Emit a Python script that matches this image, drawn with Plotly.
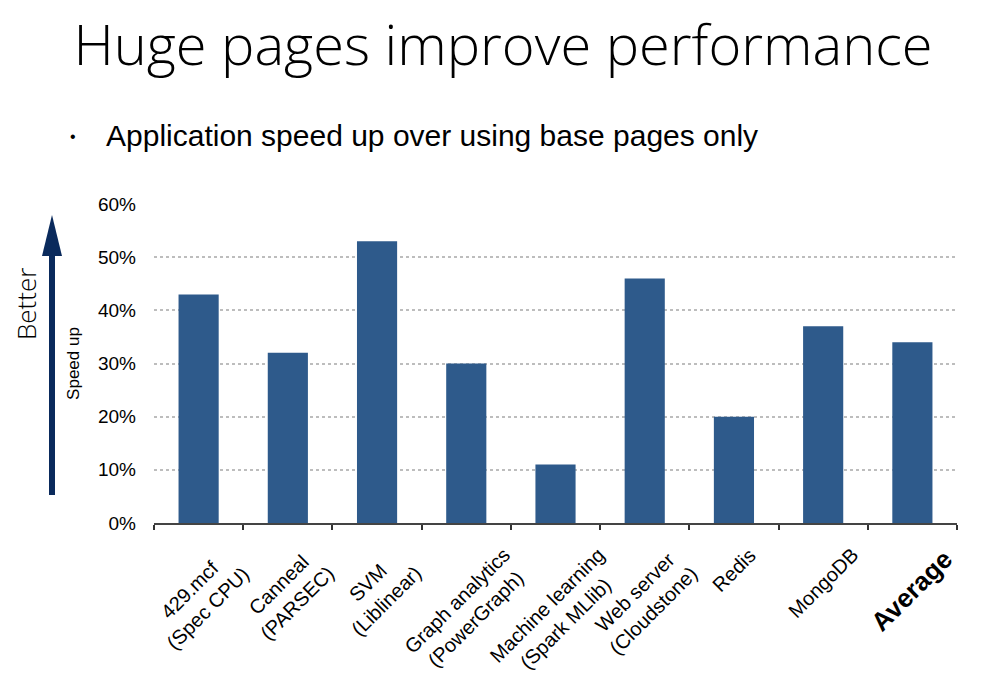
import plotly.graph_objects as go

categories = ["429.mcf", "Canneal", "SVM", "Graph analytics", "Machine learning",
              "Web server", "Redis", "MongoDB", "Average"]
tick_labels = ["429.mcf<br>(Spec CPU)", "Canneal<br>(PARSEC)", "SVM<br>(Liblinear)",
               "Graph analytics<br>(PowerGraph)", "Machine learning<br>(Spark MLlib)",
               "Web server<br>(Cloudstone)", "Redis", "MongoDB", "<b>Average</b>"]
speedup = [0.43, 0.32, 0.53, 0.30, 0.11, 0.46, 0.20, 0.37, 0.34]
y_ticks = [0, 0.1, 0.2, 0.3, 0.4, 0.5, 0.6]

W, H = 998, 676
L, R, T, B = 154, 41, 204, 153
pw, ph = W - L - R, H - T - B

def px(x):
    return (x - L) / pw

def py(y):
    return (H - B - y) / ph

BAR = "#2E5A8B"
NAVY = "#0A2A5C"
FONT = "Liberation Sans, Arial, sans-serif"
LIGHT = "Open Sans, sans-serif"

fig = go.Figure(go.Bar(x=categories, y=speedup, marker=dict(color=BAR, line=dict(width=0))))

fig.update_layout(
    width=W, height=H,
    margin=dict(l=L, r=R, t=T, b=B, autoexpand=False),
    paper_bgcolor="white", plot_bgcolor="white",
    bargap=0.55,
    showlegend=False,
    font=dict(family=FONT, color="black"),
    title=dict(text="Huge pages improve performance", x=503 / W, xanchor="center",
               y=1 - 45 / H, yanchor="middle",
               font=dict(family=LIGHT, size=56, weight=300, color="black")),
)

fig.update_xaxes(
    type="category", categoryorder="array", categoryarray=categories,
    range=[-0.5, len(categories) - 0.5],
    showticklabels=False,
    tickson="boundaries", ticks="outside", ticklen=5, tickwidth=1.5, tickcolor="#333",
    showline=True, linecolor="#444", linewidth=2,
    showgrid=False, zeroline=False, automargin=False,
)
fig.update_yaxes(
    range=[0, 0.6], tickvals=y_ticks, tickformat=".0%",
    tickfont=dict(size=19, color="black"),
    showgrid=True, gridcolor="#BDBDBD", griddash="dot", gridwidth=1.5,
    showline=False, zeroline=False, ticks="", ticklabelstandoff=17,
    title=dict(text="Speed up", font=dict(size=17, color="black"), standoff=14),
    automargin=False,
)

# rotated category labels, centred under each category
for cat, lab in zip(categories, tick_labels):
    size = 26 if cat == "Average" else 20
    fig.add_annotation(xref="x", yref="paper", x=cat, y=py(541), text=lab, textangle=-45,
                       showarrow=False, xanchor="center", yanchor="top", align="center",
                       font=dict(size=size, color="black", family=FONT))

fig.add_annotation(xref="paper", yref="paper", x=px(104), y=py(135), text="Application speed up over using base pages only",
                   showarrow=False, xanchor="left", yanchor="middle", font=dict(size=30, color="black"))
fig.add_annotation(xref="paper", yref="paper", x=px(73), y=py(137), text="•",
                   showarrow=False, xanchor="center", yanchor="middle", font=dict(size=16, color="black"))
fig.add_annotation(xref="paper", yref="paper", x=px(26), y=py(304), text="Better", textangle=-90,
                   showarrow=False, xanchor="center", yanchor="middle",
                   font=dict(size=26, color="black", family=LIGHT, weight=300))

# arrow
fig.add_shape(type="line", xref="paper", yref="paper", x0=px(52), x1=px(52), y0=py(495), y1=py(250),
              line=dict(color=NAVY, width=6))
fig.add_shape(type="path", xref="paper", yref="paper",
              path=f"M {px(42)} {py(256)} L {px(52)} {py(215)} L {px(62)} {py(256)} Z",
              fillcolor=NAVY, line=dict(color=NAVY, width=0))

fig.write_html("out.html")
